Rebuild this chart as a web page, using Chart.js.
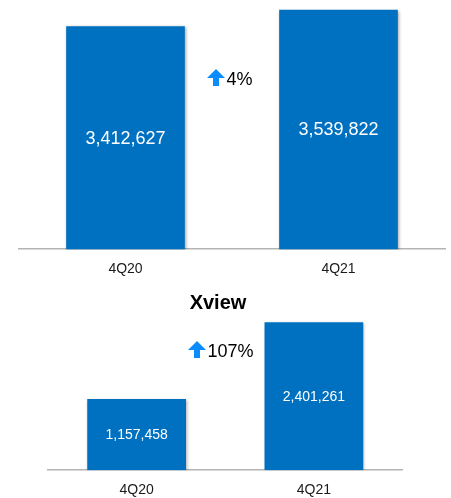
<!DOCTYPE html>
<html>
<head>
<meta charset="utf-8">
<script src="https://cdn.jsdelivr.net/npm/chart.js@4.4.1/dist/chart.umd.min.js"></script>
<style>
  html, body { margin: 0; padding: 0; background: #fff; }
  body { width: 451px; height: 498px; position: relative; overflow: hidden; }
  canvas { position: absolute; left: 0; }
  #totalChart { top: 0; }
  #xviewChart { top: 280px; }
</style>
</head>
<body>
<canvas id="totalChart" width="451" height="290"></canvas>
<canvas id="xviewChart" width="451" height="231"></canvas>
<script>
const categories = ['4Q20', '4Q21'];
const totalValues = [3412627, 3539822];
const xviewValues = [1157458, 2401261];
const totalChange = '4%';
const xviewChange = '107%';
const xviewTitle = 'Xview';

const BAR_BLUE = '#0070c0';
const ARROW_BLUE = '#0a8cff';
const FONT = '"Liberation Sans", Arial, sans-serif';

// soft grey shadow round the bars, like the slide
const barShadow = {
  id: 'barShadow',
  beforeDatasetDraw(chart) {
    const ctx = chart.ctx;
    ctx.save();
    ctx.shadowColor = 'rgba(0,0,0,0.35)';
    ctx.shadowBlur = 3;
    ctx.shadowOffsetX = 1;
    ctx.shadowOffsetY = 1;
  },
  afterDatasetDraw(chart) {
    chart.ctx.restore();
  }
};

// value written in the middle of the visible part of each bar
const barValues = {
  id: 'barValues',
  afterDatasetsDraw(chart, args, opts) {
    const ctx = chart.ctx;
    const meta = chart.getDatasetMeta(0);
    const values = chart.data.datasets[0].data;
    const bottom = chart.chartArea.bottom;
    ctx.save();
    ctx.fillStyle = '#fff';
    ctx.font = `${opts.size}px ${FONT}`;
    ctx.textAlign = 'center';
    ctx.textBaseline = 'middle';
    meta.data.forEach((bar, i) => {
      const { x, y, base } = bar.getProps(['x', 'y', 'base'], true);
      ctx.fillText(values[i].toLocaleString('en-US'), x, (y + Math.min(base, bottom)) / 2 + 1);
    });
    ctx.restore();
  }
};

// up arrow + growth text, and an optional heading
const badge = {
  id: 'badge',
  afterDraw(chart, args, opts) {
    const ctx = chart.ctx;
    ctx.save();
    if (opts.title) {
      ctx.fillStyle = '#000';
      ctx.font = `bold 20px ${FONT}`;
      ctx.textAlign = 'center';
      ctx.textBaseline = 'alphabetic';
      ctx.fillText(opts.title.text, opts.title.x, opts.title.y);
    }
    const x = opts.x, y = opts.y;
    ctx.fillStyle = ARROW_BLUE;
    ctx.beginPath();
    ctx.moveTo(x + 9, y);
    ctx.lineTo(x + 18, y + 9);
    ctx.lineTo(x + 12, y + 9);
    ctx.lineTo(x + 12, y + 17);
    ctx.lineTo(x + 6, y + 17);
    ctx.lineTo(x + 6, y + 9);
    ctx.lineTo(x, y + 9);
    ctx.closePath();
    ctx.fill();
    ctx.fillStyle = '#000';
    ctx.font = `18px ${FONT}`;
    ctx.textAlign = 'left';
    ctx.textBaseline = 'alphabetic';
    ctx.fillText(opts.text, x + 19.5, y + 15.5);
    ctx.restore();
  }
};

function makeBarChart(canvasId, values, cfg) {
  return new Chart(document.getElementById(canvasId), {
    type: 'bar',
    data: {
      labels: categories,
      datasets: [{
        data: values,
        backgroundColor: BAR_BLUE,
        borderWidth: 0,
        barPercentage: 1,
        categoryPercentage: 0.557
      }]
    },
    options: {
      responsive: false,
      animation: false,
      layout: { padding: cfg.padding },
      plugins: {
        legend: { display: false },
        tooltip: { enabled: false },
        barValues: { size: cfg.valueSize },
        badge: cfg.badge
      },
      scales: {
        x: {
          grid: { display: false, drawTicks: false },
          border: { display: true, color: '#b4b4b4', width: 1.5 },
          ticks: { color: '#1a1a1a', padding: 12, font: { family: FONT, size: 14 } }
        },
        y: { display: false, min: cfg.min, max: cfg.max }
      }
    },
    plugins: [barShadow, barValues, badge]
  });
}

makeBarChart('totalChart', totalValues, {
  padding: { left: 19, right: 6, top: 7, bottom: 0 },
  min: 1700000,
  max: 3560000,
  valueSize: 18,
  badge: { x: 207, y: 69, text: totalChange }
});

makeBarChart('xviewChart', xviewValues, {
  padding: { left: 48, right: 48.5, top: 30, bottom: 0 },
  min: 0,
  max: 2600000,
  valueSize: 14,
  badge: { x: 188, y: 61, text: xviewChange, title: { text: xviewTitle, x: 218, y: 29.3 } }
});
</script>
</body>
</html>
